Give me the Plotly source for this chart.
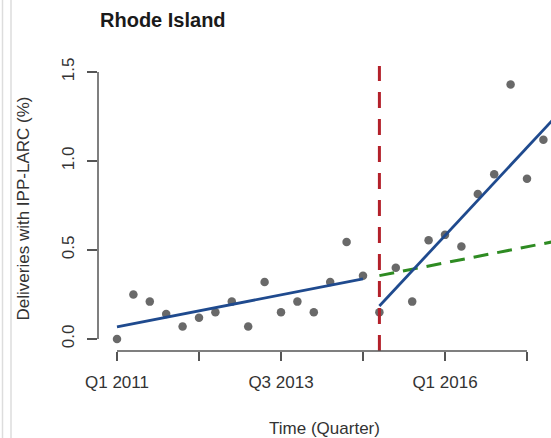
import numpy as np
import plotly.graph_objects as go

# Quarterly share of deliveries with immediate postpartum LARC, Rhode Island
quarters = [f"Q{q} {y}" for y in range(2011, 2018) for q in range(1, 5)][:27]
rate = [0.00, 0.25, 0.21, 0.14, 0.07, 0.12, 0.15, 0.21, 0.07, 0.32,
        0.15, 0.21, 0.15, 0.32, 0.545, 0.355,
        0.15, 0.40, 0.21, 0.555, 0.585, 0.52, 0.815, 0.925, 1.43, 0.90, 1.12]

# Segmented regression: policy change at Q1 2015 (index 16)
policy_idx = 16
pre_intercept, pre_slope = 0.068, 0.018
post_level, post_slope = 0.185, 0.099

tick_idx = [0, 5, 10, 15, 20, 25]
tick_text = ["Q1 2011", "", "Q3 2013", "", "Q1 2016", ""]
y_ticks = [0.0, 0.5, 1.0, 1.5]

t = np.arange(len(rate))
pre_x = np.array([0, policy_idx - 1])
pre_y = pre_intercept + pre_slope * pre_x
post_x = np.array([policy_idx, 28])
post_y = post_level + post_slope * (post_x - policy_idx)
cf_x = post_x
cf_y = pre_intercept + pre_slope * cf_x

font = "Liberation Sans, Arial, sans-serif"
axis_col = "#555555"

fig = go.Figure()
fig.add_trace(go.Scatter(x=t, y=rate, mode="markers",
                         marker=dict(size=8.5, color="#696969"),
                         hoverinfo="x+y", showlegend=False))
fig.add_trace(go.Scatter(x=pre_x, y=pre_y, mode="lines",
                         line=dict(color="#1F4A8E", width=2.8), showlegend=False))
fig.add_trace(go.Scatter(x=cf_x, y=cf_y, mode="lines",
                         line=dict(color="#2E8B22", width=3, dash="15px,9px"),
                         showlegend=False))
fig.add_trace(go.Scatter(x=post_x, y=post_y, mode="lines",
                         line=dict(color="#1F4A8E", width=2.8), showlegend=False))

# policy start marker
fig.add_shape(type="line", xref="x", yref="paper", x0=policy_idx, x1=policy_idx,
              y0=0, y1=1, line=dict(color="#B3202A", width=3, dash="16px,11px"))
# R-style axis lines spanning the tick range
fig.add_shape(type="line", xref="x", yref="paper", x0=tick_idx[0], x1=tick_idx[-1],
              y0=0, y1=0, line=dict(color=axis_col, width=1.5))
fig.add_shape(type="line", xref="paper", yref="y", x0=0, x1=0,
              y0=y_ticks[0], y1=y_ticks[-1], line=dict(color=axis_col, width=1.5))
# page border lines on the left
for xp in (2.5, 11):
    fig.add_shape(type="line", xref="paper", yref="paper",
                  x0=(xp - 98) / 453, x1=(xp - 98) / 453, y0=-87 / 285, y1=372 / 285,
                  line=dict(color="#DDDDDD", width=1.5))

fig.update_layout(
    width=551, height=438,
    margin=dict(l=98, r=0, t=66, b=87),
    paper_bgcolor="white", plot_bgcolor="white",
    font=dict(family=font, size=17, color="#333333"),
    title=dict(text="<b>Rhode Island</b>", xref="container", yref="container",
               x=100 / 551, xanchor="left", y=1 - 20 / 438, yanchor="middle",
               font=dict(family=font, size=20, color="#1a1a1a")),
    xaxis=dict(range=[-19 / 16.4, 434 / 16.4], tickvals=tick_idx, ticktext=tick_text,
               showgrid=False, zeroline=False, showline=False,
               ticks="outside", ticklen=9, tickwidth=1.5, tickcolor=axis_col,
               ticklabelstandoff=7,
               title=dict(text="Time (Quarter)", standoff=35,
                          font=dict(family=font, size=17, color="#333333"))),
    yaxis=dict(range=[-12 / 178, 273 / 178], tickvals=y_ticks,
               ticktext=[f"{v:.1f}" for v in y_ticks], tickangle=-90,
               showgrid=False, zeroline=False, showline=False,
               ticks="outside", ticklen=10, tickwidth=1.5, tickcolor=axis_col,
               ticklabelstandoff=6,
               title=dict(text="Deliveries with IPP-LARC (%)", standoff=25,
                          font=dict(family=font, size=17, color="#333333"))),
)

fig.write_html("out.html")
